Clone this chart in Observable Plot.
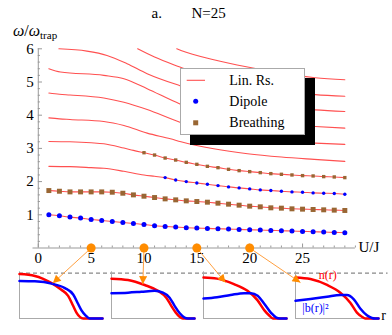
<!DOCTYPE html>
<html><head><meta charset="utf-8">
<script src="https://cdn.jsdelivr.net/npm/d3@7"></script>
<script src="https://cdn.jsdelivr.net/npm/@observablehq/plot@0.6"></script>
<style>
body{margin:0;background:#fff;}
#wrap{position:relative;width:392px;height:335px;font-family:"Liberation Serif","Times New Roman",serif;overflow:hidden;}
#wrap > svg{position:absolute;}
#wrap svg text{font-family:"Liberation Serif","Times New Roman",serif;}
#legend{position:absolute;left:180px;top:67.7px;width:125px;height:67.3px;box-sizing:border-box;background:#fff;border:1px solid #aaa;box-shadow:10px 10px 0 #000;}
</style></head><body><div id="wrap"></div>
<script>
// ---------- data ----------
const uj = [1,2,3,4,5,6,7,8,9,10,11,12,13,14,15,16,17,18,19,20,21,22,23,24,25,26,27,28,29];
const dipoleLow = [1.00,0.97,0.93,0.90,0.86,0.83,0.80,0.77,0.74,0.71,0.67,0.65,0.63,0.61,0.60,0.59,0.58,0.57,0.56,0.55,0.54,0.53,0.52,0.51,0.50,0.49,0.48,0.47,0.46];
const breathingLow = [1.73,1.71,1.69,1.69,1.69,1.69,1.68,1.65,1.60,1.56,1.52,1.48,1.45,1.42,1.40,1.38,1.35,1.32,1.29,1.26,1.24,1.21,1.20,1.18,1.17,1.16,1.15,1.14,1.13];
const ujDipoleHigh = [12,13,14,15,16,17,18,19,20,21,22,23,24,25,26,27,28,29];
const dipoleHigh = [2.12,2.05,2.00,1.96,1.92,1.88,1.84,1.81,1.78,1.75,1.73,1.71,1.69,1.68,1.66,1.65,1.64,1.62];
const ujBreathingHigh = [10,11,12,13,14,15,16,17,18,19,20,21,22,23,24,25,26,27,28,29];
const breathingHigh = [2.87,2.80,2.71,2.65,2.58,2.52,2.46,2.42,2.37,2.33,2.30,2.27,2.24,2.22,2.20,2.18,2.17,2.15,2.14,2.12];
// linear-response lines (U/J, omega) not covered by the point series
const lin3Head = [[1,2.46],[3,2.45],[5,2.42],[6.2,2.40],[8.1,2.31],[10,2.20],[11,2.16]];
const lin4Head = [[1,3.21],[3,3.20],[5,3.17],[6.2,3.14],[8.1,3.01],[9,2.94]];
const lin5 = [[1,3.92],[2,3.89],[3,3.87],[6.2,3.81],[8.1,3.69],[10.3,3.46],[12.5,3.29],[13.5,3.20],[16.6,2.99],[19.8,2.84],[23,2.74],[26.1,2.67],[29,2.61]];
const lin6 = [[1,4.67],[2,4.63],[3,4.61],[6.2,4.52],[8.1,4.39],[10.3,4.17],[13.4,3.79],[16.5,3.52],[20,3.33],[23,3.22],[26.2,3.16],[29,3.12]];
const lin7 = [[1,5.40],[2.1,5.30],[6.2,5.20],[8.1,5.10],[10.3,4.80],[13.4,4.34],[17,3.98],[20,3.82],[23,3.72],[26.2,3.66],[29,3.61]];
const lin8 = [[1.95,6.0],[4.6,5.93],[6.5,5.80],[8.4,5.55],[10.3,5.25],[13.4,4.89],[17,4.55],[20,4.38],[23,4.25],[26.2,4.16],[29,4.11]];
const lin9 = [[9.4,6.0],[11,5.75],[13.4,5.45],[16,5.15],[19,4.93],[22,4.78],[26.2,4.62],[29,4.57]];
const lin10 = [[13.1,6.0],[13.5,5.95],[16.6,5.67],[19.8,5.45],[22,5.32],[26.2,5.13],[29,5.07]];
const xMajor = [0,5,10,15,20,25];
const xMinor = [1,2,3,4,6,7,8,9,11,12,13,14,16,17,18,19,21,22,23,24,26,27,28,29,30];
const yMajor = [1,2,3,4,5,6];
const yMinor = [0.2,0.4,0.6,0.8,1.2,1.4,1.6,1.8,2.2,2.4,2.6,2.8,3.2,3.4,3.6,3.8,4.2,4.4,4.6,4.8,5.2,5.4,5.6,5.8];
// snapshots: U/J of the orange dots and where their arrows end
const snapU = [5,10,15,20];
const arrowEnds = [[1.37,-1.06],[9.89,-1.09],[17.71,-1.04],[24.8,-1.04]];
// inset profiles (r, density), density 1 = dashed line
const n5  = [[0,0.98],[0.185,0.94],[0.386,0.78],[0.5,0.64],[0.586,0.50],[0.646,0.28],[0.686,0.13],[0.727,0.035],[0.767,0],[1,0]];
const b5  = [[0,0.83],[0.185,0.82],[0.386,0.77],[0.547,0.67],[0.647,0.53],[0.707,0.32],[0.747,0.18],[0.795,0.07],[0.847,0],[1,0]];
const n10 = [[0,0.88],[0.2,0.85],[0.4,0.74],[0.56,0.61],[0.66,0.46],[0.72,0.28],[0.775,0.13],[0.82,0.04],[0.86,0],[1,0]];
const b10 = [[0,0.56],[0.2,0.57],[0.36,0.59],[0.52,0.61],[0.62,0.57],[0.7,0.46],[0.76,0.28],[0.82,0.12],[0.88,0.02],[0.92,0],[1,0]];
const n15 = [[0,0.905],[0.163,0.88],[0.367,0.76],[0.53,0.61],[0.652,0.40],[0.734,0.18],[0.795,0.06],[0.836,0],[1,0]];
const b15 = [[0,0.44],[0.163,0.47],[0.326,0.52],[0.49,0.56],[0.57,0.56],[0.652,0.50],[0.734,0.32],[0.816,0.12],[0.877,0.02],[0.92,0],[1,0]];
const n20 = [[0,0.905],[0.18,0.87],[0.38,0.74],[0.54,0.57],[0.66,0.35],[0.74,0.13],[0.80,0.04],[0.84,0],[1,0]];
const b20 = [[0,0.39],[0.18,0.43],[0.38,0.48],[0.54,0.52],[0.62,0.52],[0.70,0.43],[0.78,0.22],[0.86,0.07],[0.92,0.01],[0.96,0],[1,0]];
const insetLabels = [{t:"n(r)", r:0.39, d:0.95, c:"#ff0000", s:12},{t:"|b(r)|²", r:0.24, d:0.23, c:"#0000ff", s:12},{t:"r", r:1.06, d:0.06, c:"#000", s:14}];

// ---------- build ----------
const RED = "#ff5050", BLUE = "#0000ff", BROWN = "#996633", ORANGE = "#ff8c00";
const serif = "'Liberation Serif','Times New Roman',serif";
const lines = [];
const add = (id, arr) => arr.forEach(p => lines.push({id, x: p[0], y: p[1]}));
add(1, uj.map((x,i)=>[x, dipoleLow[i]]));
add(2, uj.map((x,i)=>[x, breathingLow[i]]));
add(3, lin3Head.concat(ujDipoleHigh.map((x,i)=>[x, dipoleHigh[i]])));
add(4, lin4Head.concat(ujBreathingHigh.map((x,i)=>[x, breathingHigh[i]])));
add(5, lin5); add(6, lin6); add(7, lin7); add(8, lin8); add(9, lin9); add(10, lin10);
const arrows = snapU.map((u,i)=>({x1:u, y1:0, x2:arrowEnds[i][0], y2:arrowEnds[i][1]}));
const grey = "#999";
const main = Plot.plot({
  width: 392, height: 335,
  marginLeft: 32.5, marginRight: 37.1, marginTop: 48.3, marginBottom: 87.5,
  x: {domain: [-0.5, 30], axis: null},
  y: {domain: [0, 6], axis: null},
  style: {background: "transparent", fontFamily: serif, fontSize: "15px", overflow: "visible"},
  marks: [
    Plot.ruleY([0], {stroke: grey}),
    Plot.ruleX([0], {y1: 0, y2: 6, stroke: grey}),
    Plot.ruleX(xMinor, {x: d=>d, y1: 0, y2: 0.06, stroke: grey}),
    Plot.ruleX(xMajor, {x: d=>d, y1: 0, y2: 0.12, stroke: grey}),
    Plot.ruleY(yMinor, {y: d=>d, x1: 0, x2: 0.2, stroke: grey}),
    Plot.ruleY(yMajor, {y: d=>d, x1: 0, x2: 0.4, stroke: grey}),
    Plot.line(lines, {x: "x", y: "y", z: "id", stroke: RED, strokeWidth: 1.1, curve: "monotone-x"}),
    Plot.dot(uj, {x: d=>d, y: (d,i)=>dipoleLow[i], r: 2.5, fill: BLUE}),
    Plot.dot(uj, {x: d=>d, y: (d,i)=>breathingLow[i], r: 2.8, symbol: "square", fill: BROWN}),
    Plot.dot(ujDipoleHigh, {x: d=>d, y: (d,i)=>dipoleHigh[i], r: 1.7, fill: BLUE}),
    Plot.dot(ujBreathingHigh, {x: d=>d, y: (d,i)=>breathingHigh[i], r: 1.9, symbol: "square", fill: BROWN}),
    Plot.text(xMajor, {x: d=>d, y: 0, dy: 10, text: d=>String(d), fill: "#000"}),
    Plot.text(yMajor, {x: 0, y: d=>d, dx: -4.5, text: d=>String(d), textAnchor: "end", fill: "#000"}),
    Plot.link(arrows, {x1: "x1", y1: "y1", x2: "x2", y2: "y2", stroke: "#ffa040", strokeWidth: 1}),
    Plot.dot(snapU, {x: d=>d, y: 0, r: 4.5, fill: ORANGE})
  ]
});
const ms = d3.select(main);
ms.append("defs").append("marker").attr("id","ah").attr("viewBox","0 0 10 10")
  .attr("refX",10).attr("refY",5).attr("markerWidth",10).attr("markerHeight",8)
  .attr("markerUnits","userSpaceOnUse").attr("orient","auto")
  .append("path").attr("d","M0,0L10,5L0,10z").attr("fill", ORANGE);
ms.selectAll('g[aria-label="link"] path').attr("marker-end","url(#ah)");
const txt = (x, y, size) => ms.append("text").attr("x", x).attr("y", y).attr("font-size", size)
  .attr("text-anchor", "start").attr("fill", "#000").style("font-family", serif);
txt(151.5, 18, 15).text("a.");
txt(191.5, 18, 15).text("N=25");
txt(358.5, 251.5, 15).text("U/J");
const yl = txt(13, 36, 16);
yl.append("tspan").attr("font-style","italic").text("ω");
yl.append("tspan").text("/");
yl.append("tspan").attr("font-style","italic").text("ω");
yl.append("tspan").attr("font-size",11).attr("dy",3).text("trap");

// insets
const panelLeft = [18.7, 110.7, 203.3, 295];
const profiles = [[n5,b5],[n10,b10],[n15,b15],[n20,b20]];
const wrap = document.getElementById("wrap");
profiles.forEach(([n,b], k) => {
  const mL = 2, mR = 14, w = 83;
  const extra = k === 3 ? [Plot.text(insetLabels, {x: "r", y: "d", text: "t", fill: "c", fontSize: d=>d.s})] : [];
  const s = Plot.plot({
    width: w + mL + mR, height: 62,
    marginLeft: mL, marginRight: mR, marginTop: 10.7, marginBottom: 6,
    x: {domain: [0,1], axis: null}, y: {domain: [0,1], axis: null},
    style: {background: "transparent", fontFamily: serif, overflow: "visible"},
    marks: [
      Plot.ruleY([1], {x1: 0, x2: 1.115, stroke: "#888", strokeWidth: 1.2, strokeDasharray: "4,3"}),
      Plot.ruleX([0], {y1: 0, y2: 1.03, stroke: "#aaa"}),
      Plot.ruleY([0], {x1: 0, x2: 1, stroke: "#aaa"}),
      Plot.line(n, {x: d=>d[0], y: d=>d[1], stroke: "#ff0000", strokeWidth: 2.5, curve: "monotone-x"}),
      Plot.line(b, {x: d=>d[0], y: d=>d[1], stroke: "#0000ff", strokeWidth: 2.5, curve: "monotone-x"}),
      ...extra
    ]
  });
  s.style.left = (panelLeft[k] - mL) + "px";
  s.style.top = "262px";
  wrap.appendChild(s);
});
main.style.left = "0px"; main.style.top = "0px";
wrap.appendChild(main);

// legend
const lg = document.createElement("div");
lg.id = "legend";
lg.innerHTML = `<svg width="123" height="65" style="position:absolute;left:0;top:0;font-size:14px">
<line x1="5.7" x2="24" y1="11.3" y2="11.3" stroke="${RED}" stroke-width="1.1"/>
<circle cx="14.7" cy="32.3" r="2.5" fill="${BLUE}"/>
<rect x="12.2" y="51.3" width="5" height="5" fill="${BROWN}"/>
<text x="48.3" y="11.3" dominant-baseline="central">Lin. Rs.</text>
<text x="48.3" y="32.3" dominant-baseline="central">Dipole</text>
<text x="48.3" y="53.8" dominant-baseline="central">Breathing</text>
</svg>`;
wrap.appendChild(lg);
</script></body></html>
